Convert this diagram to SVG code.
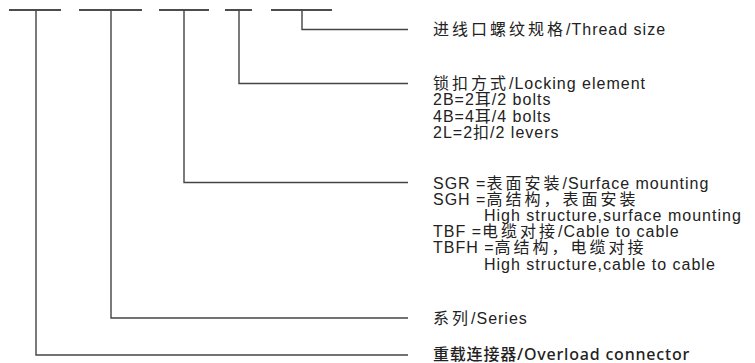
<svg xmlns="http://www.w3.org/2000/svg" width="755" height="363" viewBox="0 0 755 363">
<style>
.bar{stroke:#111;stroke-width:1.5;fill:none}
.con{stroke:#444;stroke-width:1.4;fill:none}
text{font-family:"Liberation Sans","Noto Sans CJK SC",sans-serif;font-size:16px;fill:#222;letter-spacing:1px}
.cj{letter-spacing:3px}
.ov{font-family:"Noto Sans","Noto Sans CJK SC",sans-serif;font-weight:500;font-size:16px;letter-spacing:0.8px}
</style>
<rect width="755" height="363" fill="#fff"/>
<g id="connectors">
<line class="bar" x1="9" y1="10" x2="61" y2="10"/>
<line class="bar" x1="79" y1="10" x2="142" y2="10"/>
<line class="bar" x1="159" y1="10" x2="209" y2="10"/>
<line class="bar" x1="225" y1="10" x2="252" y2="10"/>
<line class="bar" x1="271" y1="10" x2="332" y2="10"/>
<polyline class="con" points="302,10 302,29.5 408,29.5"/>
<polyline class="con" points="239,10 239,83.5 408,83.5"/>
<polyline class="con" points="184,10 184,182.5 408,182.5"/>
<polyline class="con" points="111,10 111,318 408,318"/>
<polyline class="con" points="36,10 36,355 408,355"/>
</g>
<g id="thread">
<text x="433" y="35"><tspan class="cj">进线口螺纹规格</tspan>/Thread size</text>
</g>
<g id="locking">
<text x="433" y="88.5"><tspan class="cj">锁扣方式</tspan>/Locking element</text>
<text x="433" y="105">2B=2耳/2 bolts</text>
<text x="433" y="121.5">4B=4耳/4 bolts</text>
<text x="433" y="138">2L=2扣/2 levers</text>
</g>
<g id="mounting">
<text x="433" y="188.5">SGR =<tspan class="cj">表面安装</tspan>/Surface mounting</text>
<text x="433" y="204.7">SGH =<tspan class="cj">高结构，表面安装</tspan></text>
<text x="484" y="220.9">High structure,surface mounting</text>
<text x="433" y="237.1">TBF =<tspan class="cj">电缆对接</tspan>/Cable to cable</text>
<text x="433" y="253.3">TBFH =<tspan class="cj">高结构，电缆对接</tspan></text>
<text x="484" y="269.5">High structure,cable to cable</text>
</g>
<g id="series">
<text x="433" y="323.5"><tspan class="cj">系列</tspan>/Series</text>
</g>
<g id="overload">
<text class="ov" x="433" y="359.5">重载连接器/Overload connector</text>
</g>
</svg>
